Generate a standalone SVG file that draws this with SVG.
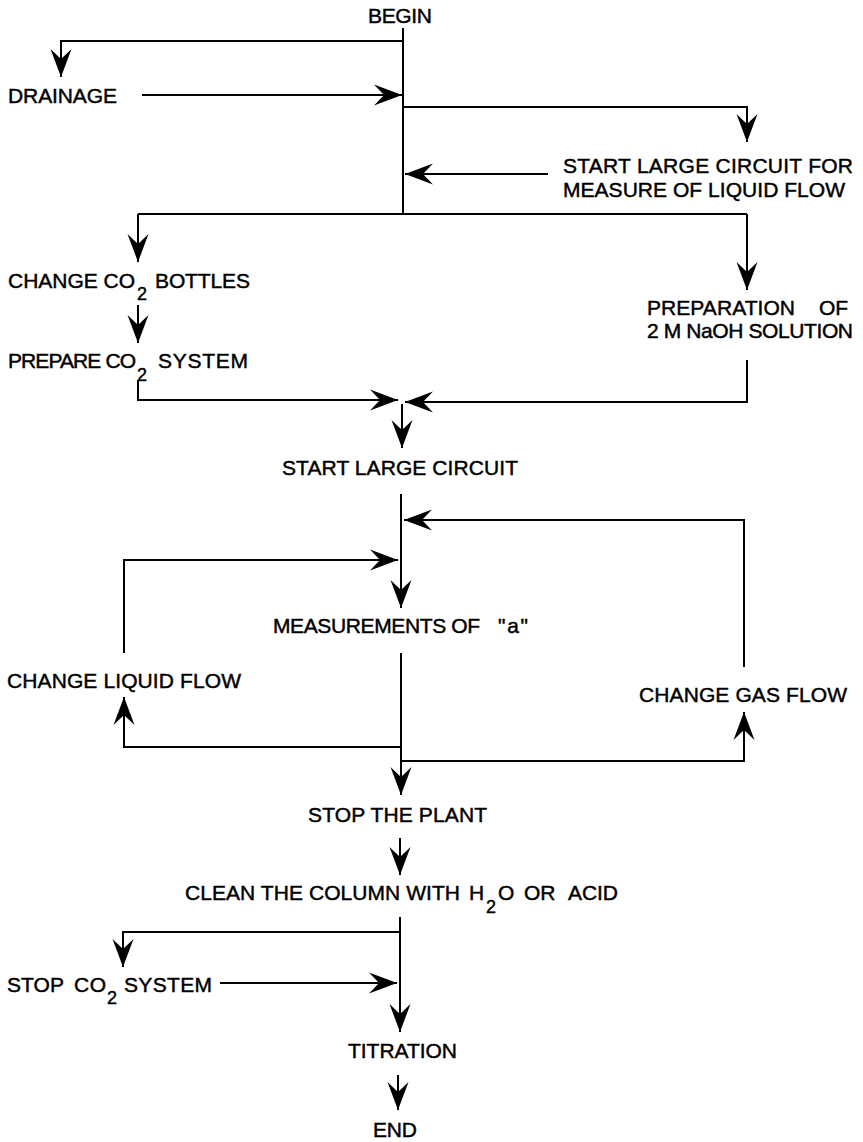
<svg xmlns="http://www.w3.org/2000/svg" width="863" height="1142" viewBox="0 0 863 1142">
<style>
text{font-family:"Liberation Sans",Arial,sans-serif;font-size:21px;fill:#000;stroke:#000;stroke-width:0.45;}
.sub{font-size:18px;}
.c{fill:none;stroke:#000;stroke-width:2;}
.a{marker-end:url(#ah);}
</style>
<defs>
<marker id="ah" viewBox="-30 -12 32 24" refX="0" refY="0" markerWidth="32" markerHeight="24" markerUnits="userSpaceOnUse" orient="auto">
<path d="M0,0 L-28,-10.5 L-18,0 L-28,10.5 Z" fill="#000"/>
</marker>
</defs>
<rect width="863" height="1142" fill="#fff"/>
<g id="connectors">
<path class="c" d="M403,28 V214"/>
<path class="c a" d="M403,41 H61 V77"/>
<path class="c a" d="M142,95 H402"/>
<path class="c a" d="M403,107 H747 V142"/>
<path class="c a" d="M548,174 H405"/>
<path class="c" d="M138,214 H747"/>
<path class="c a" d="M138,214 V262"/>
<path class="c a" d="M747,214 V290"/>
<path class="c a" d="M138,305 V343"/>
<path class="c a" d="M138,380 V400 H398"/>
<path class="c a" d="M747,360 V402 H405"/>
<path class="c a" d="M402,404 V448"/>
<path class="c a" d="M401,494 V608"/>
<path class="c a" d="M744,667 V520 H404"/>
<path class="c a" d="M124,653 V560 H398"/>
<path class="c a" d="M401,653 V795"/>
<path class="c a" d="M401,747 H124 V697"/>
<path class="c a" d="M401,761 H744 V712"/>
<path class="c a" d="M400,838 V875"/>
<path class="c a" d="M400,917 V1032"/>
<path class="c a" d="M400,932 H123 V967"/>
<path class="c a" d="M220,983 H397"/>
<path class="c a" d="M398,1075 V1110"/>
</g>
<g id="begin"><text x="368" y="23" textLength="64">BEGIN</text></g>
<g id="drainage"><text x="8" y="103" textLength="109">DRAINAGE</text></g>
<g id="start-large-circuit-liquid"><text x="563" y="173" textLength="290">START LARGE CIRCUIT FOR</text><text x="563" y="197" textLength="282">MEASURE OF LIQUID FLOW</text></g>
<g id="change-co2-bottles"><text x="8" y="288" textLength="127">CHANGE CO</text><text class="sub" x="137" y="300">2</text><text x="155" y="288" textLength="95">BOTTLES</text></g>
<g id="prepare-co2-system"><text x="8" y="368" textLength="128">PREPARE CO</text><text class="sub" x="137" y="381">2</text><text x="158" y="368" textLength="90">SYSTEM</text></g>
<g id="preparation-naoh"><text x="647" y="315" textLength="148">PREPARATION</text><text x="819" y="315" textLength="29">OF</text><text x="647" y="338" textLength="206">2 M NaOH SOLUTION</text></g>
<g id="start-large-circuit"><text x="282" y="475" textLength="236">START LARGE CIRCUIT</text></g>
<g id="measurements"><text x="273" y="633" textLength="207">MEASUREMENTS OF</text><text x="498" y="633" textLength="30">"a"</text></g>
<g id="change-liquid-flow"><text x="7" y="688" textLength="234">CHANGE LIQUID FLOW</text></g>
<g id="change-gas-flow"><text x="639" y="702" textLength="208">CHANGE GAS FLOW</text></g>
<g id="stop-plant"><text x="308" y="822" textLength="179">STOP THE PLANT</text></g>
<g id="clean-column"><text x="185" y="900" textLength="275">CLEAN THE COLUMN WITH</text><text x="469" y="900">H</text><text class="sub" x="486" y="913">2</text><text x="498" y="900">O</text><text x="524" y="900">OR</text><text x="568" y="900" textLength="50">ACID</text></g>
<g id="stop-co2-system"><text x="7" y="992" textLength="57">STOP</text><text x="74" y="992" textLength="32">CO</text><text class="sub" x="107" y="1004">2</text><text x="124" y="992" textLength="88">SYSTEM</text></g>
<g id="titration"><text x="348" y="1058" textLength="109">TITRATION</text></g>
<g id="end"><text x="373" y="1137" textLength="44">END</text></g>
</svg>
